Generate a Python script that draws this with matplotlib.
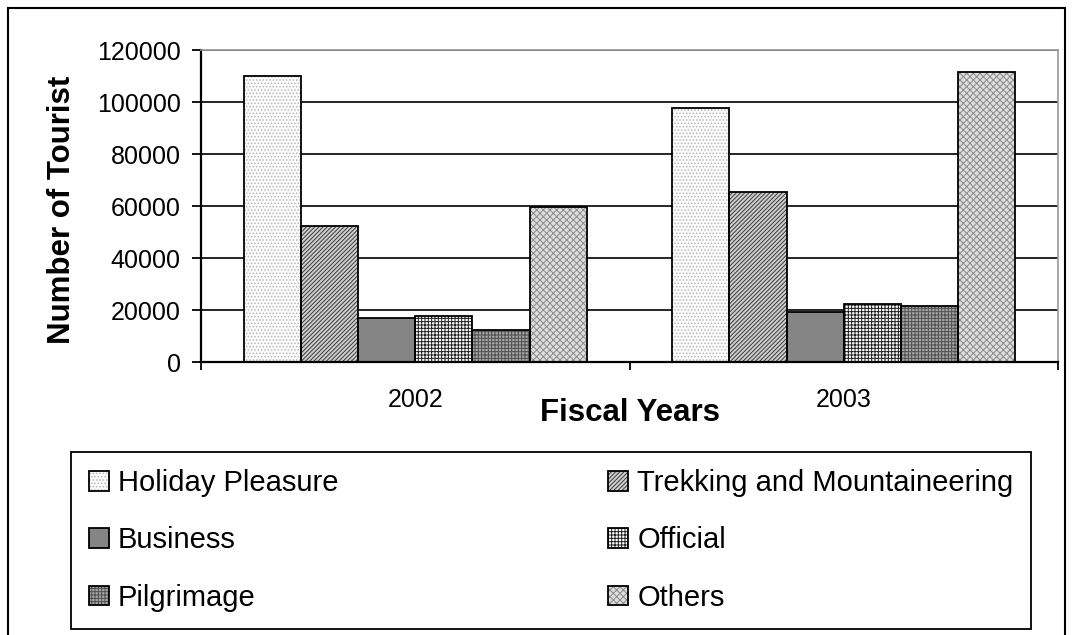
import matplotlib
matplotlib.use('Agg')
import matplotlib.pyplot as plt
from matplotlib.patches import Rectangle
import numpy as np

plt.rcParams['font.family'] = ['Liberation Sans', 'DejaVu Sans']
plt.rcParams['hatch.linewidth'] = 0.7

# Tourist arrivals by purpose of visit
years = ['2002', '2003']
purposes = ['Holiday Pleasure', 'Trekking and Mountaineering', 'Business',
            'Official', 'Pilgrimage', 'Others']
holiday = [110000, 97800]
trekking = [52300, 65400]
business = [17000, 19300]
official = [17800, 22400]
pilgrimage = [12400, 21500]
others = [59500, 111500]
series = [holiday, trekking, business, official, pilgrimage, others]

# fill colour, hatch, hatch colour for each series
styles = [
    ('#fbfbfb', '.....', '#b8b8b8'),
    ('#cfcfcf', '////////', '#3a3a3a'),
    ('#858585', '', '#858585'),
    ('#ffffff', '+++++', '#202020'),
    ('#a5a5a5', '+++++', '#505050'),
    ('#dedede', 'xxxxx', '#8a8a8a'),
]

W, H = 1073, 635
fig = plt.figure(figsize=(W / 100, H / 100), dpi=100)
ax = fig.add_axes([201 / W, 1 - 362 / H, (1058 - 201) / W, (362 - 50) / H])

x = np.arange(len(years))
width = 1 / 7.5
handles = []
for i, (vals, (face, hatch, hcol)) in enumerate(zip(series, styles)):
    pos = x + (i - 2.5) * width
    fill = ax.bar(pos, vals, width, color=face, hatch=hatch, edgecolor=hcol,
                  linewidth=0, zorder=2)
    outline = ax.bar(pos, vals, width, fill=False, edgecolor='black',
                     linewidth=1.3, zorder=3)
    handles.append((fill, outline))

ax.set_xlim(-0.5, 1.5)
ax.set_ylim(0, 120000)
ax.set_yticks(np.arange(0, 120001, 20000))
ax.yaxis.grid(True, color='black', linewidth=1.2)
ax.set_axisbelow(True)

# category boundaries carry the ticks, centres carry the labels
ax.set_xticks([-0.5, 0.5, 1.5])
ax.set_xticklabels([])
ax.set_xticks(x, minor=True)
ax.set_xticklabels(years, minor=True)
ax.tick_params(axis='x', which='major', direction='out', length=6, width=1.3)
ax.tick_params(axis='x', which='minor', length=0, pad=19, labelsize=18)
ax.tick_params(axis='y', direction='out', length=6.5, width=1.3, pad=8,
               labelsize=18)

for side in ['left', 'bottom']:
    ax.spines[side].set_color('black')
    ax.spines[side].set_linewidth(1.6)
for side in ['top', 'right']:
    ax.spines[side].set_color('#999999')
    ax.spines[side].set_linewidth(1.2)

fig.text(62 / W, 1 - 210 / H, 'Number of Tourist', rotation=90,
         ha='center', va='center', fontsize=22.5, fontweight='bold')
fig.text(630 / W, 1 - 413 / H, 'Fiscal Years', ha='center', va='center',
         fontsize=22.5, fontweight='bold')

# legend fills row by row: reorder so two columns read across
order = [0, 2, 4, 1, 3, 5]
leg = fig.legend([handles[i] for i in order], [purposes[i] for i in order],
                 ncol=2, loc='lower left',
                 bbox_to_anchor=(71 / W, 1 - 629 / H, (1031 - 71) / W, 0.2),
                 mode='expand', borderaxespad=0, fontsize=21,
                 handlelength=0.7, handleheight=0.65, handletextpad=0.3,
                 labelspacing=1.0, borderpad=0.6, fancybox=False,
                 edgecolor='black', framealpha=1)
leg.get_frame().set_linewidth(1.3)

# outer border round the whole chart
fig.add_artist(Rectangle((8 / W, -0.05), (1065 - 8) / W, 1 - 8 / H + 0.05,
                         transform=fig.transFigure, fill=False,
                         edgecolor='black', linewidth=1.5))

fig.savefig('out.png', dpi=100)
